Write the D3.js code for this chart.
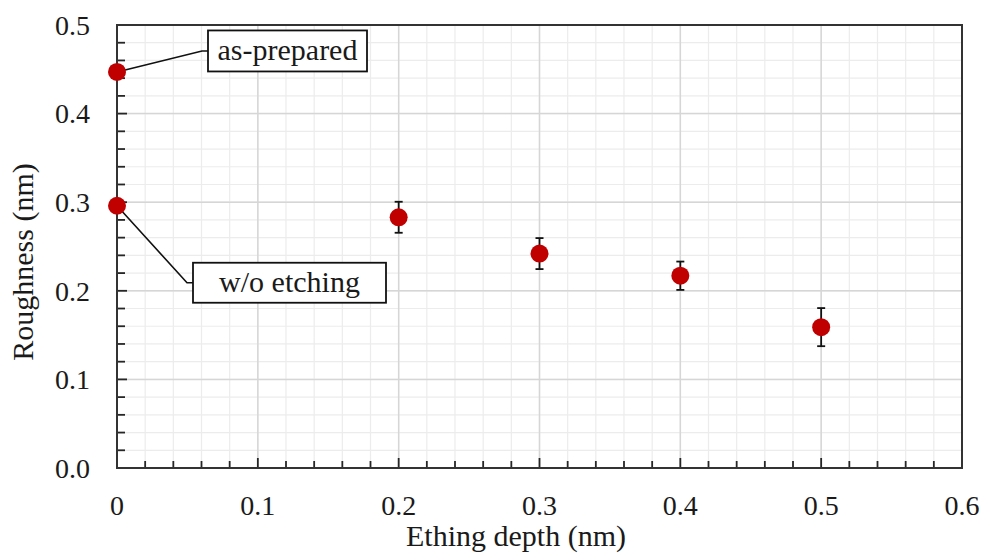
<!DOCTYPE html>
<html>
<head>
<meta charset="utf-8">
<script src="https://cdn.jsdelivr.net/npm/d3@7"></script>
<style>
  body { margin: 0; background: #fff; }
  svg { display: block; }
  text { fill: #1a1a1a; }
</style>
</head>
<body>
<div id="chart"></div>
<script>
// Roughness vs etching depth
const depths = [0, 0, 0.2, 0.3, 0.4, 0.5];
const roughness = [0.447, 0.296, 0.283, 0.242, 0.217, 0.159];
const errors = [0, 0, 0.0175, 0.0175, 0.016, 0.0215];
const labels = ["as-prepared", "w/o etching", null, null, null, null];
const xTicks = [0, 0.1, 0.2, 0.3, 0.4, 0.5, 0.6];
const yTicks = [0.0, 0.1, 0.2, 0.3, 0.4, 0.5];

const W = 984, H = 554;
const margin = {top: 25, right: 22, bottom: 86, left: 117};
const width = W - margin.left - margin.right;
const height = H - margin.top - margin.bottom;

const svg = d3.select("#chart").append("svg")
    .attr("width", W)
    .attr("height", H)
    .attr("font-family", "'Liberation Serif', 'Times New Roman', serif");

const g = svg.append("g")
    .attr("transform", `translate(${margin.left},${margin.top})`);

const x = d3.scaleLinear().domain([0, 0.6]).range([0, width]);
const y = d3.scaleLinear().domain([0, 0.5]).range([height, 0]);

// minor grid every 0.02
const xMinor = d3.range(0, 0.6001, 0.02);
const yMinor = d3.range(0, 0.5001, 0.02);

g.append("g").selectAll("line").data(xMinor).enter().append("line")
    .attr("x1", d => x(d)).attr("x2", d => x(d))
    .attr("y1", 0).attr("y2", height)
    .attr("stroke", "#ececec").attr("stroke-width", 1.2);
g.append("g").selectAll("line").data(yMinor).enter().append("line")
    .attr("y1", d => y(d)).attr("y2", d => y(d))
    .attr("x1", 0).attr("x2", width)
    .attr("stroke", "#ececec").attr("stroke-width", 1.2);

// major grid
g.append("g").selectAll("line").data(xTicks).enter().append("line")
    .attr("x1", d => x(d)).attr("x2", d => x(d))
    .attr("y1", 0).attr("y2", height)
    .attr("stroke", "#d6d6d6").attr("stroke-width", 1.5);
g.append("g").selectAll("line").data(yTicks).enter().append("line")
    .attr("y1", d => y(d)).attr("y2", d => y(d))
    .attr("x1", 0).attr("x2", width)
    .attr("stroke", "#d6d6d6").attr("stroke-width", 1.5);

// inward ticks
g.append("g").selectAll("line").data(xMinor).enter().append("line")
    .attr("x1", d => x(d)).attr("x2", d => x(d))
    .attr("y1", height).attr("y2", (d, i) => height - (i % 5 === 0 ? 10 : 7))
    .attr("stroke", "#262626").attr("stroke-width", 1.8);
g.append("g").selectAll("line").data(yMinor).enter().append("line")
    .attr("y1", d => y(d)).attr("y2", d => y(d))
    .attr("x1", 0).attr("x2", (d, i) => (i % 5 === 0 ? 10 : 8))
    .attr("stroke", "#262626").attr("stroke-width", 1.8);

// frame
g.append("rect")
    .attr("width", width).attr("height", height)
    .attr("fill", "none").attr("stroke", "#333").attr("stroke-width", 2);

// tick labels
g.append("g").selectAll("text").data(xTicks).enter().append("text")
    .attr("x", d => x(d)).attr("y", height + 47)
    .attr("text-anchor", "middle")
    .style("font-size", "28px")
    .text(d => d === 0 ? "0" : d3.format(".1f")(d));
g.append("g").selectAll("text").data(yTicks).enter().append("text")
    .attr("x", -27).attr("y", d => y(d))
    .attr("dy", "0.35em")
    .attr("text-anchor", "end")
    .style("font-size", "28px")
    .text(d => d3.format(".1f")(d));

// axis titles
svg.append("text")
    .attr("x", 516).attr("y", 546)
    .attr("text-anchor", "middle")
    .style("font-size", "30px")
    .text("Ething depth (nm)");
svg.append("text")
    .attr("transform", "translate(33,262) rotate(-90)")
    .attr("text-anchor", "middle")
    .style("font-size", "30px")
    .text("Roughness (nm)");

const pts = depths.map((d, i) => ({x: d, y: roughness[i], e: errors[i], label: labels[i]}));

// annotations (leader + box)
const annot = [
    {label: "as-prepared", dx: 85, dy: -21, bw: 159, bh: 41},
    {label: "w/o etching", dx: 70, dy: 77, bw: 193, bh: 40}
];
annot.forEach(a => {
    const p = pts.find(d => d.label === a.label);
    const px = x(p.x), py = y(p.y);
    const ex = px + a.dx, ey = py + a.dy;
    g.append("polyline")
        .attr("points", `${px},${py} ${ex},${ey} ${ex + 6},${ey}`)
        .attr("fill", "none").attr("stroke", "#111").attr("stroke-width", 1.6);
    g.append("rect")
        .attr("x", ex + 6).attr("y", ey - a.bh / 2)
        .attr("width", a.bw).attr("height", a.bh)
        .attr("fill", "#fff").attr("stroke", "#111").attr("stroke-width", 1.8);
    g.append("text")
        .attr("x", ex + 6 + a.bw / 2).attr("y", ey)
        .attr("dy", "0.3em")
        .attr("text-anchor", "middle")
        .style("font-size", "30px")
        .text(a.label);
});

// error bars
const eb = g.append("g").selectAll("g").data(pts.filter(d => d.e > 0)).enter().append("g")
    .attr("stroke", "#111").attr("stroke-width", 1.8);
eb.append("line")
    .attr("x1", d => x(d.x)).attr("x2", d => x(d.x))
    .attr("y1", d => y(d.y - d.e)).attr("y2", d => y(d.y + d.e));
eb.append("line")
    .attr("x1", d => x(d.x) - 4).attr("x2", d => x(d.x) + 4)
    .attr("y1", d => y(d.y + d.e)).attr("y2", d => y(d.y + d.e));
eb.append("line")
    .attr("x1", d => x(d.x) - 4).attr("x2", d => x(d.x) + 4)
    .attr("y1", d => y(d.y - d.e)).attr("y2", d => y(d.y - d.e));

// markers
g.append("g").selectAll("circle").data(pts).enter().append("circle")
    .attr("cx", d => x(d.x)).attr("cy", d => y(d.y))
    .attr("r", 9)
    .attr("fill", "#c00000");
</script>
</body>
</html>
